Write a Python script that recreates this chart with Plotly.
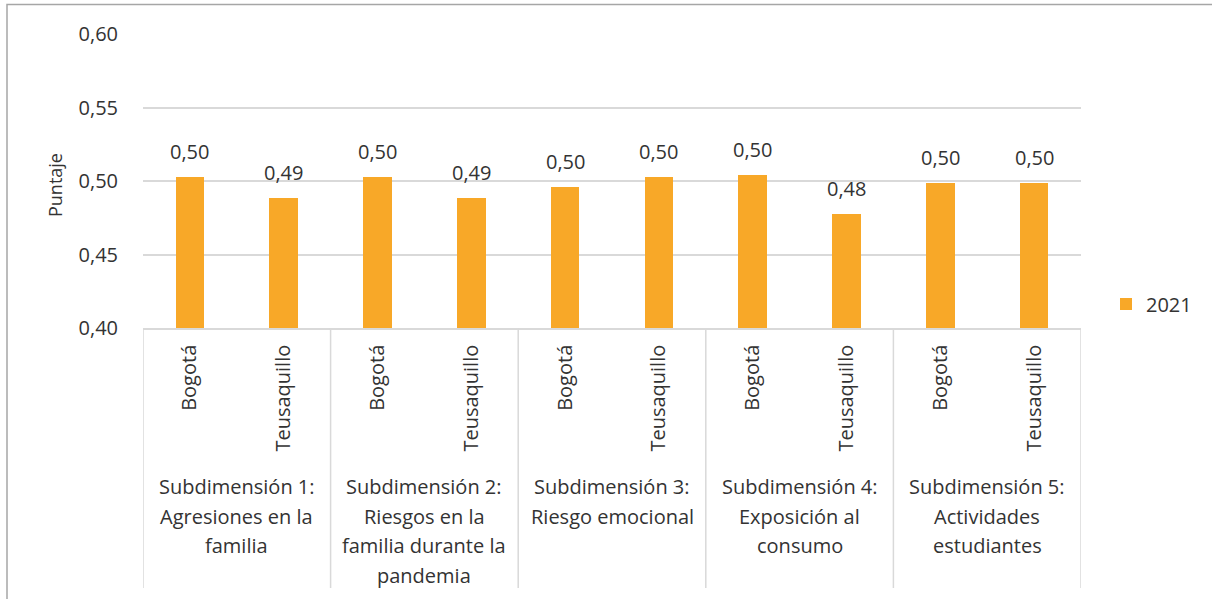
import plotly.graph_objects as go

# Puntaje por subdimensión, Bogotá vs. Teusaquillo (2021)
places = ["Bogotá", "Teusaquillo"] * 5
group_lines = [
    ["Subdimensión 1:", "Agresiones en la", "familia"],
    ["Subdimensión 2:", "Riesgos en la", "familia durante la", "pandemia"],
    ["Subdimensión 3:", "Riesgo emocional"],
    ["Subdimensión 4:", "Exposición al", "consumo"],
    ["Subdimensión 5:", "Actividades", "estudiantes"],
]
scores_2021 = [0.5025, 0.4887, 0.5025, 0.4887, 0.4957,
               0.5025, 0.5039, 0.4778, 0.4989, 0.4989]
y_ticks = [0.40, 0.45, 0.50, 0.55, 0.60]

FONT = "Open Sans"
TXT = "#333333"
GRID = "#D9D9D9"
BAR = "#F8A828"

# plot area geometry in pixels (used to convert offsets to paper units)
W, H = 1212, 599
L, R, T, B = 143, 131, 34, 271
PH = H - T - B

def py(px_y):
    """pixel row -> paper y"""
    return (H - B - px_y) / PH

def px_x(px):
    return (px - L) / (W - L - R)

xs = list(range(len(places)))

fig = go.Figure()
fig.add_trace(go.Bar(
    x=xs, y=scores_2021, name="2021",
    marker=dict(color=BAR, line=dict(width=0)),
    width=0.305,
))

annotations = []
# value labels above each bar
for x, v in zip(xs, scores_2021):
    annotations.append(dict(
        x=x, y=v, xref="x", yref="y", yanchor="bottom", yshift=10,
        text=f"{v:.2f}".replace(".", ","), showarrow=False,
        font=dict(family=FONT, size=20, color=TXT),
    ))

# group labels under each pair of bars
for g, lines in enumerate(group_lines):
    for i, line in enumerate(lines):
        annotations.append(dict(
            x=2 * g + 0.5, y=py(486.5 + 29.6 * i), xref="x", yref="paper",
            yanchor="middle", text=line, showarrow=False,
            font=dict(family=FONT, size=20, color=TXT),
        ))

# y axis title
annotations.append(dict(
    x=px_x(55), y=py(185), xref="paper", yref="paper", text="Puntaje",
    textangle=-90, showarrow=False, xanchor="center", yanchor="middle",
    font=dict(family=FONT, size=18, color=TXT),
))

shapes = []
# vertical separators between groups
for b in [-0.5, 1.5, 3.5, 5.5, 7.5, 9.5]:
    shapes.append(dict(type="line", xref="x", yref="paper",
                       x0=b, x1=b, y0=0, y1=py(588),
                       line=dict(color=GRID, width=1.5)))
# outer chart frame
shapes.append(dict(type="rect", xref="paper", yref="paper",
                   x0=px_x(7), x1=px_x(1216), y0=py(4.5), y1=py(604),
                   line=dict(color="#A6A6A6", width=1.5), layer="below"))

fig.update_layout(
    width=W, height=H,
    margin=dict(l=L, r=R, t=T, b=B, autoexpand=False),
    paper_bgcolor="white", plot_bgcolor="white",
    separators=",.",
    font=dict(family=FONT, size=20, color=TXT),
    showlegend=True,
    legend=dict(x=px_x(1106), y=py(304), xanchor="left", yanchor="middle",
                font=dict(family=FONT, size=20, color=TXT),
                itemwidth=30, bgcolor="rgba(0,0,0,0)"),
    annotations=annotations,
    shapes=shapes,
    bargap=0.0,
)
fig.update_xaxes(
    range=[-0.5, 9.5], tickmode="array", tickvals=xs, ticktext=places,
    tickangle=-90, showgrid=False, showline=True, linecolor=GRID, linewidth=1.5,
    ticks="", ticklabelstandoff=7, automargin=False,
    tickfont=dict(family=FONT, size=20, color=TXT),
)
fig.update_yaxes(
    range=[0.40, 0.60], tickmode="array", tickvals=y_ticks, tickformat=".2f",
    showgrid=True, gridcolor=GRID, gridwidth=1.5, zeroline=False,
    showline=False, ticks="", ticklabelstandoff=24, automargin=False,
    tickfont=dict(family=FONT, size=20, color=TXT),
)

fig.write_html("out.html")
